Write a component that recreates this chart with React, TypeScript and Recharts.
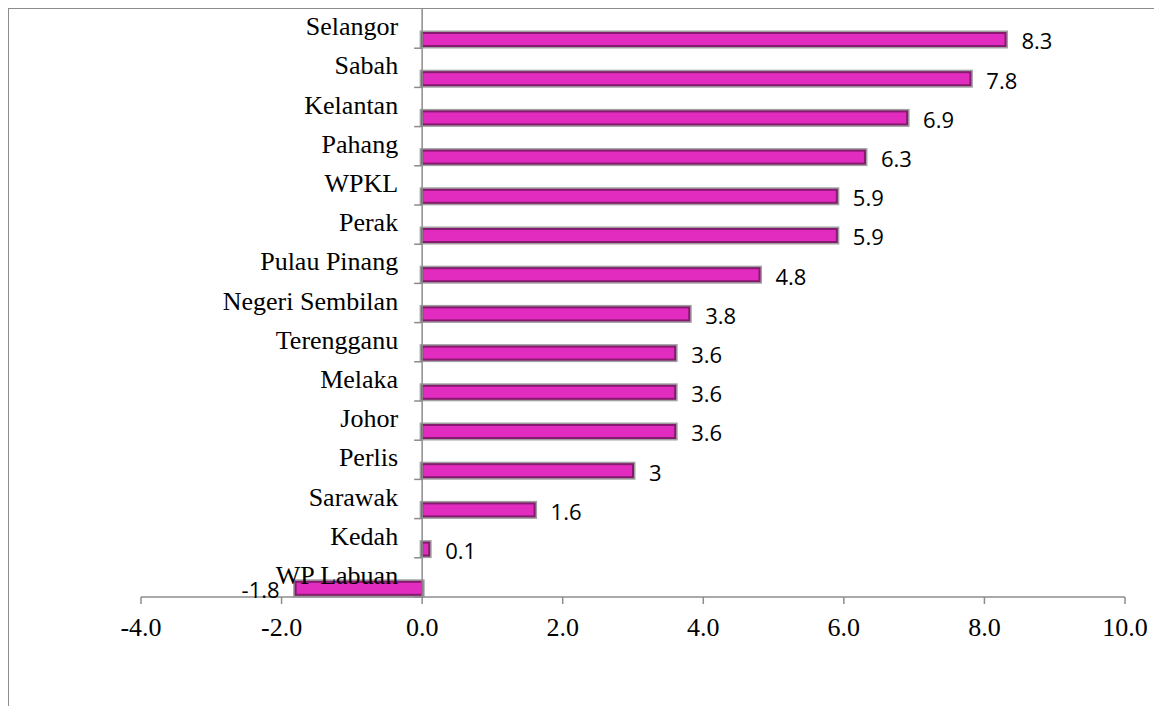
import React from 'react';
import { BarChart, Bar, XAxis, YAxis, ReferenceLine, LabelList } from 'recharts';

const states = [
  'Selangor', 'Sabah', 'Kelantan', 'Pahang', 'WPKL', 'Perak', 'Pulau Pinang',
  'Negeri Sembilan', 'Terengganu', 'Melaka', 'Johor', 'Perlis', 'Sarawak', 'Kedah', 'WP Labuan',
];
const growth = [8.3, 7.8, 6.9, 6.3, 5.9, 5.9, 4.8, 3.8, 3.6, 3.6, 3.6, 3, 1.6, 0.1, -1.8];
const xTicks = [-4, -2, 0, 2, 4, 6, 8, 10];

const data = states.map((name, i) => ({ name, value: growth[i] }));

const W = 1153;
const H = 697;
const Y_AXIS_W = 132;
const MARGIN = { top: 0, right: 37, bottom: 0, left: 0 };
const X_AXIS_H = 109;
const plotW = W - MARGIN.left - MARGIN.right - Y_AXIS_W;
const plotH = H - MARGIN.top - MARGIN.bottom - X_AXIS_H;
const band = plotH / states.length;
// x pixel of the value 0, where the category axis sits
const zeroX = MARGIN.left + Y_AXIS_W + ((0 - xTicks[0]) / (xTicks[xTicks.length - 1] - xTicks[0])) * plotW;

const GRAY = '#8c8c8c';
const SERIF = '"Liberation Serif", "Times New Roman", serif';

function StateTick(props: any) {
  const { y, payload } = props;
  const by = y + band / 2;
  return (
    <g>
      <line x1={zeroX - 8} y1={by} x2={zeroX} y2={by} stroke={GRAY} strokeWidth={1.5} />
      <text x={zeroX - 24} y={y - 2} textAnchor="end" dominantBaseline="central"
        fontFamily={SERIF} fontSize={26} fill="#000">
        {payload.value}
      </text>
    </g>
  );
}

function BarShape(props: any) {
  const { x, y, width, height } = props;
  const left = Math.min(x, x + width);
  const w = Math.abs(width);
  return (
    <g>
      <rect x={left} y={y} width={w} height={height} fill="none" stroke="#a0a0a0" strokeWidth={5} />
      <rect x={left} y={y} width={w} height={height} fill="#e22bbf" stroke="#861a6e" strokeWidth={2} />
    </g>
  );
}

export default function App() {
  return (
    <div style={{ width: W, height: H, borderTop: `1.5px solid ${GRAY}`, borderLeft: `1.5px solid ${GRAY}` }}>
      <BarChart width={W} height={H} data={data} layout="vertical" margin={MARGIN}
        barSize={13} barGap={9}>
        <Bar dataKey="none" fill="none" isAnimationActive={false} />
        <Bar dataKey="value" shape={<BarShape />} isAnimationActive={false}>
          <LabelList dataKey="value" position="right" offset={16} dy={2}
            style={{ fontFamily: '"Open Sans", sans-serif', fontSize: 22, fill: '#000' }} />
        </Bar>
        <ReferenceLine x={0} stroke={GRAY} strokeWidth={1.5} />
        <XAxis type="number" domain={[xTicks[0], xTicks[xTicks.length - 1]]} ticks={xTicks}
          tickFormatter={(v: number) => v.toFixed(1)} height={X_AXIS_H}
          stroke={GRAY} strokeWidth={1.5} tickSize={7} tickMargin={14}
          tick={{ fill: '#000', fontFamily: SERIF, fontSize: 26 }} />
        <YAxis type="category" dataKey="name" width={Y_AXIS_W} axisLine={false} tickLine={false}
          tick={<StateTick />} interval={0} />
      </BarChart>
    </div>
  );
}
